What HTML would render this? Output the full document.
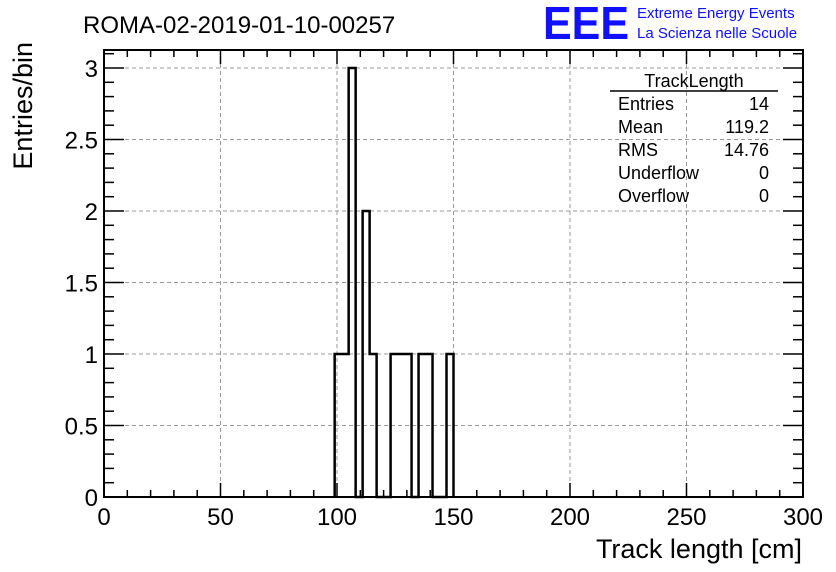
<!DOCTYPE html>
<html><head><meta charset="utf-8"><style>
body{margin:0;background:#fff}
svg{display:block;font-family:"Liberation Sans",sans-serif}
</style></head><body>
<svg id="c" width="836" height="572" viewBox="0 0 836 572">
<rect width="836" height="572" fill="#fff"/>
<g id="grid"></g>
<path id="hist" fill="none" stroke="#000" stroke-width="2.5"/>
<g id="axes"></g>
<text x="83" y="33" font-size="24">ROMA-02-2019-01-10-00257</text>
<text x="543" y="39" font-size="46" fill="#1010ff" font-weight="bold" textLength="86" lengthAdjust="spacingAndGlyphs">EEE</text>
<text x="637" y="18" font-size="15" fill="#1010ff">Extreme Energy Events</text>
<text x="637" y="38" font-size="15" fill="#1010ff">La Scienza nelle Scuole</text>
<g font-size="18">
<text x="694" y="87" text-anchor="middle">TrackLength</text>
<line x1="610" y1="91" x2="778" y2="91" stroke="#000" stroke-width="1.5"/>
<text x="618" y="110">Entries</text><text x="769" y="110" text-anchor="end">14</text>
<text x="618" y="133">Mean</text><text x="769" y="133" text-anchor="end">119.2</text>
<text x="618" y="156">RMS</text><text x="769" y="156" text-anchor="end">14.76</text>
<text x="618" y="179">Underflow</text><text x="769" y="179" text-anchor="end">0</text>
<text x="618" y="202">Overflow</text><text x="769" y="202" text-anchor="end">0</text>
</g>
<text x="802" y="558" font-size="27" text-anchor="end">Track length [cm]</text>
<text transform="translate(32,42) rotate(-90)" font-size="27" text-anchor="end">Entries/bin</text>
</svg>
<script>
const binStart = 99, binWidth = 3;
const binCounts = [1,1,3,0,2,1,0,0,1,1,1,0,1,1,0,0,1];
const xTicks = [0,50,100,150,200,250,300];
const yTicks = [0,0.5,1,1.5,2,2.5,3];
const yTickLabels = ["0","0.5","1","1.5","2","2.5","3"];
const NS="http://www.w3.org/2000/svg";
const L=104,R=803,T=50,B=497;
const sx=v=>L+(v-0)/300*(R-L);
const sy=v=>B-v*143;
function mk(tag,attrs,parent){const e=document.createElementNS(NS,tag);for(const k in attrs)e.setAttribute(k,attrs[k]);parent.appendChild(e);return e;}
const grid=document.getElementById('grid'),axes=document.getElementById('axes');
xTicks.forEach(t=>{if(t>0&&t<300){const g=mk('line',{x1:sx(t),x2:sx(t),y1:T,y2:B,stroke:'#999','stroke-dasharray':'4,3','stroke-width':1},grid);

}});
yTicks.forEach(t=>{if(t>0){const g=mk('line',{x1:L,x2:R,y1:sy(t),y2:sy(t),stroke:'#999','stroke-dasharray':'4,3','stroke-width':1},grid);

}});
let d=`M${sx(binStart)},${sy(0)}`;
binCounts.forEach((c,i)=>{const x0=sx(binStart+i*binWidth),x1=sx(binStart+(i+1)*binWidth);d+=` L${x0},${sy(c)} L${x1},${sy(c)}`;});
d+=` L${sx(binStart+binCounts.length*binWidth)},${sy(0)}`;
document.getElementById('hist').setAttribute('d',d);
const f=mk('rect',{x:L,y:T,width:R-L,height:B-T,fill:'none',stroke:'#000','stroke-width':2},axes);


for(let v=0;v<=300;v+=10){const maj=v%50===0,len=maj?14:7;
mk('line',{x1:sx(v),x2:sx(v),y1:B,y2:B-len,stroke:'#000','stroke-width':1.5},axes);
mk('line',{x1:sx(v),x2:sx(v),y1:T,y2:T+len,stroke:'#000','stroke-width':1.5},axes);}
for(let k=0;k<=31;k++){const v=k/10;const maj=k%5===0,len=maj?20:10;
mk('line',{x1:L,x2:L+len,y1:sy(v),y2:sy(v),stroke:'#000','stroke-width':1.5},axes);
mk('line',{x1:R,x2:R-len,y1:sy(v),y2:sy(v),stroke:'#000','stroke-width':1.5},axes);}
xTicks.forEach(t=>{const e=mk('text',{x:sx(t),y:525,'font-size':24,'text-anchor':'middle'},axes);e.textContent=t;

});
yTicks.forEach((t,i)=>{const e=mk('text',{x:98,y:sy(t)+9,'font-size':24,'text-anchor':'end'},axes);e.textContent=yTickLabels[i];

});
</script>
</body></html>
